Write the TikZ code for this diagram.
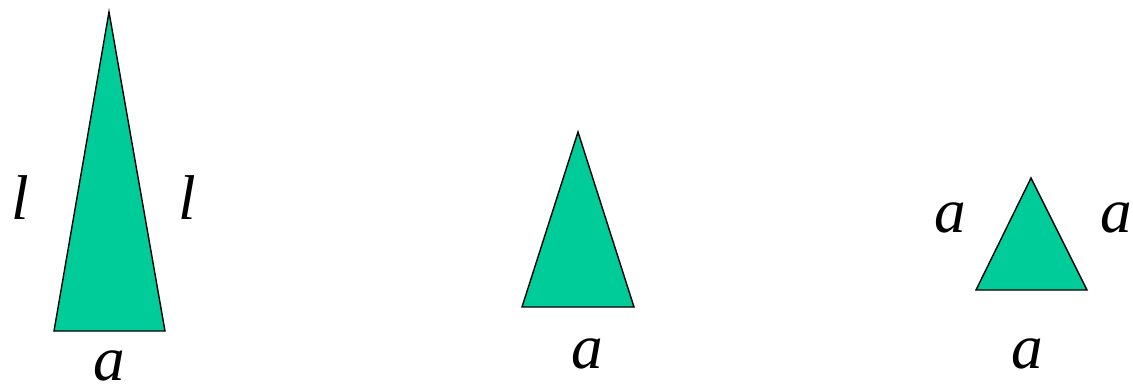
\documentclass[tikz,border=0pt]{standalone}
\usepackage{fontspec}
\setmainfont{Liberation Serif}
\usepackage{tikz}
\definecolor{trigreen}{HTML}{00CC99}

\begin{document}
\begin{tikzpicture}[x=0.02cm,y=-0.02cm,
  tri/.style={draw=black,fill=trigreen,line width=0.8pt,line join=miter},
  lbl/.style={font=\fontsize{36}{40}\selectfont\itshape,inner sep=0pt}]
\useasboundingbox (0,0) rectangle (1133,389);
% tall isosceles triangle
\coordinate (ta) at (109,12);
\coordinate (tl) at (54,331);
\coordinate (tr) at (165,331);
\draw[tri] (ta) -- (tl) -- (tr) -- cycle;
\node[lbl] (tlside) at (20,198) {l};
\node[lbl] (trside) at (187,198) {l};
\node[lbl] (tbase) at (109,366) {a};
% middle triangle
\coordinate (ma) at (578,132);
\coordinate (ml) at (522,307);
\coordinate (mr) at (634,307);
\draw[tri] (ma) -- (ml) -- (mr) -- cycle;
\node[lbl] (mbase) at (587,354) {a};
% equilateral triangle
\coordinate (ea) at (1031,178);
\coordinate (el) at (976,290);
\coordinate (er) at (1087,290);
\draw[tri] (ea) -- (el) -- (er) -- cycle;
\node[lbl] (elside) at (950,218) {a};
\node[lbl] (erside) at (1116,218) {a};
\node[lbl] (ebase) at (1027,354) {a};
\end{tikzpicture}
\end{document}
